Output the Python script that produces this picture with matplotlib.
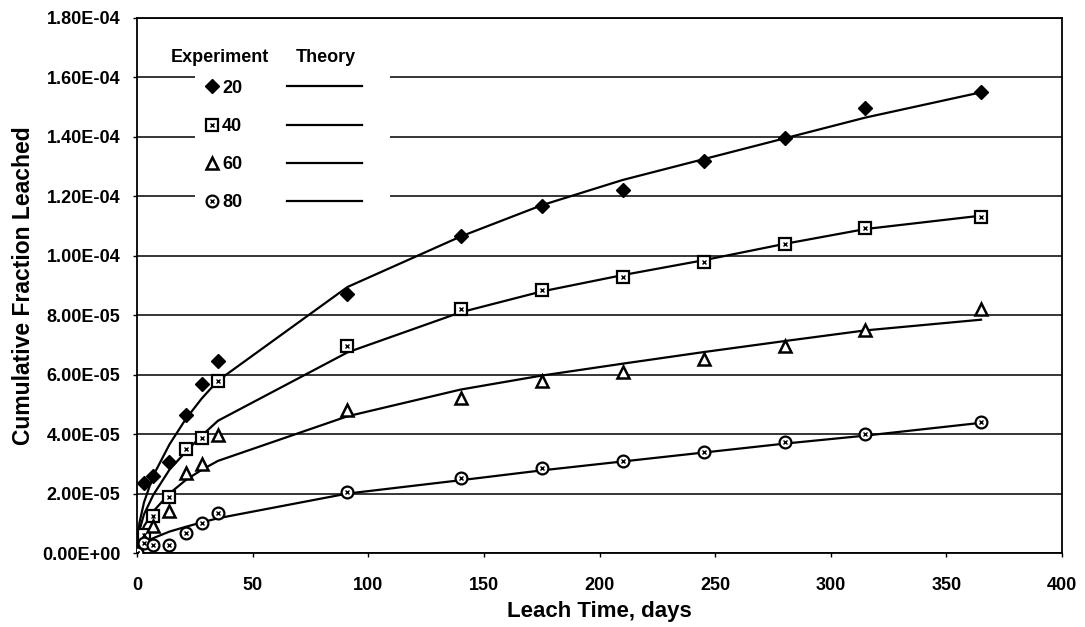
import matplotlib
matplotlib.use("Agg")
import matplotlib.pyplot as plt
from matplotlib.lines import Line2D
from matplotlib.patches import Rectangle
from matplotlib.ticker import FuncFormatter

plt.rcParams['font.family'] = ['Liberation Sans', 'DejaVu Sans']
plt.rcParams['font.weight'] = 'bold'

# Experiment sampling times (days) and measured cumulative fractions
days_exp = [0, 3, 7, 14, 21, 28, 35, 91, 140, 175, 210, 245, 280, 315, 365]
exp20 = [0, 2.35e-5, 2.6e-5, 3.05e-5, 4.65e-5, 5.7e-5, 6.45e-5, 8.7e-5,
         1.068e-4, 1.168e-4, 1.221e-4, 1.318e-4, 1.397e-4, 1.498e-4, 1.55e-4]
exp40 = [0, 6.0e-6, 1.25e-5, 1.88e-5, 3.5e-5, 3.88e-5, 5.8e-5, 6.95e-5,
         8.2e-5, 8.85e-5, 9.3e-5, 9.8e-5, 1.04e-4, 1.093e-4, 1.13e-4]
exp60 = [0, 4.0e-6, 9.2e-6, 1.42e-5, 2.68e-5, 3.0e-5, 3.98e-5, 4.8e-5,
         5.2e-5, 5.78e-5, 6.08e-5, 6.52e-5, 6.95e-5, 7.5e-5, 8.2e-5]
exp80 = [0, 3.5e-6, 2.6e-6, 2.7e-6, 6.6e-6, 1.02e-5, 1.34e-5, 2.05e-5,
         2.52e-5, 2.85e-5, 3.1e-5, 3.4e-5, 3.72e-5, 4.0e-5, 4.4e-5]

# Theory curves
days_th = [0, 1, 3, 7, 14, 21, 28, 35, 91, 140, 175, 210, 245, 280, 315, 365]
th20 = [0, 1.0e-5, 1.7e-5, 2.6e-5, 3.65e-5, 4.5e-5, 5.2e-5, 5.8e-5, 8.95e-5,
        1.065e-4, 1.17e-4, 1.255e-4, 1.325e-4, 1.395e-4, 1.465e-4, 1.55e-4]
th40 = [0, 0.75e-5, 1.3e-5, 1.95e-5, 2.8e-5, 3.4e-5, 3.95e-5, 4.45e-5, 6.75e-5,
        8.1e-5, 8.8e-5, 9.35e-5, 9.85e-5, 1.04e-4, 1.09e-4, 1.135e-4]
th60 = [0, 0.5e-5, 0.9e-5, 1.4e-5, 2.0e-5, 2.45e-5, 2.8e-5, 3.1e-5, 4.6e-5,
        5.5e-5, 5.97e-5, 6.37e-5, 6.76e-5, 7.13e-5, 7.49e-5, 7.85e-5]
th80 = [0, 0.2e-5, 0.33e-5, 0.5e-5, 0.72e-5, 0.88e-5, 1.03e-5, 1.17e-5, 2.0e-5,
        2.45e-5, 2.78e-5, 3.08e-5, 3.38e-5, 3.68e-5, 3.95e-5, 4.38e-5]

labels = ['20', '40', '60', '80']

fig = plt.figure(figsize=(10.85, 6.27), dpi=100)
ax = fig.add_axes([0.1263, 0.118, 0.8525, 0.8533])

# theory lines
for th in [th20, th40, th60, th80]:
    ax.plot(days_th, th, color='black', lw=1.6, zorder=3)

# experiment markers
ax.plot(days_exp, exp20, 'D', color='black', ms=7.5, zorder=4)
ax.plot(days_exp, exp40, 's', mfc='white', mec='black', mew=1.6, ms=8.5, zorder=4)
ax.plot(days_exp, exp40, 'x', color='black', mew=1.0, ms=3.5, zorder=5)
ax.plot(days_exp, exp60, '^', mfc='white', mec='black', mew=1.8, ms=9, zorder=4)
ax.plot(days_exp, exp80, 'o', mfc='white', mec='black', mew=1.6, ms=8.5, zorder=4)
ax.plot(days_exp, exp80, 'x', color='black', mew=1.0, ms=3.5, zorder=5)

ax.set_xlim(0, 400)
ax.set_ylim(0, 1.8e-4)
ax.set_xticks(range(0, 401, 50))
ax.set_yticks([i * 2e-5 for i in range(10)])
ax.yaxis.set_major_formatter(FuncFormatter(lambda v, p: '{:.2E}'.format(v)))
ax.tick_params(labelsize=13, length=3, width=1)
ax.tick_params(axis='y', pad=9)
ax.tick_params(axis='x', pad=14)
ax.grid(axis='y', color='black', lw=1.1)
ax.set_axisbelow(True)
for s in ax.spines.values():
    s.set_linewidth(1.3)

ax.set_xlabel('Leach Time, days', fontsize=16, fontweight='bold', labelpad=5)
ax.set_ylabel('Cumulative Fraction Leached', fontsize=16.5, fontweight='bold', labelpad=5)

# white box behind the legend
ax.add_patch(Rectangle((0.063, 0.63), 0.21, 0.33, transform=ax.transAxes,
                       facecolor='white', edgecolor='none', zorder=1.5))

# legend column headers
ax.text(0.0897, 0.9258, 'Experiment', transform=ax.transAxes, ha='center',
        va='center', fontsize=13, fontweight='bold', zorder=6)
ax.text(0.2043, 0.9258, 'Theory', transform=ax.transAxes, ha='center',
        va='center', fontsize=13, fontweight='bold', zorder=6)

mk20 = Line2D([], [], marker='D', color='black', ls='none', ms=7.5)
mk40 = (Line2D([], [], marker='s', mfc='white', mec='black', mew=1.6, ls='none', ms=8.5),
        Line2D([], [], marker='x', color='black', mew=1.0, ms=3.5, ls='none'))
mk60 = Line2D([], [], marker='^', mfc='white', mec='black', mew=1.8, ls='none', ms=9)
mk80 = (Line2D([], [], marker='o', mfc='white', mec='black', mew=1.6, ls='none', ms=8.5),
        Line2D([], [], marker='x', color='black', mew=1.0, ms=3.5, ls='none'))

prop = {'weight': 'bold', 'size': 13}
leg1 = ax.legend([mk20, mk40, mk60, mk80], labels,
                 loc='upper left', bbox_to_anchor=(0.0735, 0.885),
                 frameon=False, prop=prop, borderaxespad=0, borderpad=0,
                 handlelength=0.8, handletextpad=0.15, labelspacing=1.18)
ax.add_artist(leg1)
lines = [Line2D([], [], color='black', lw=1.6) for _ in labels]
leg2 = ax.legend(lines, ['', '', '', ''],
                 loc='upper left', bbox_to_anchor=(0.1622, 0.885),
                 frameon=False, prop=prop, borderaxespad=0, borderpad=0,
                 handlelength=4.17, handletextpad=0.0, labelspacing=1.18)

fig.savefig('out.png', dpi=100)
